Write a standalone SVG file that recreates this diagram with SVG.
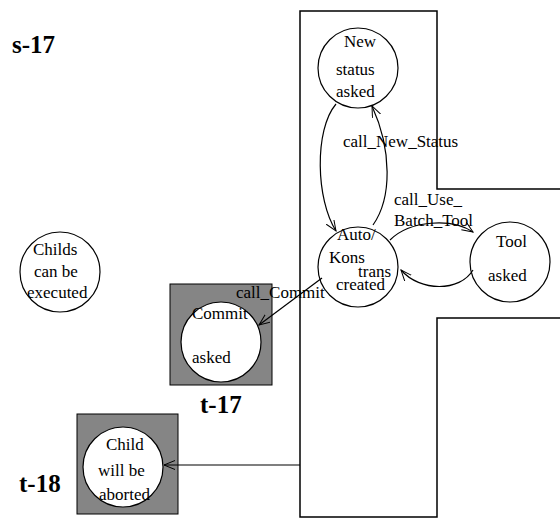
<svg xmlns="http://www.w3.org/2000/svg" width="560" height="522" viewBox="0 0 560 522">
<style>
.t{font-family:"Liberation Serif","Times New Roman",serif;font-size:17px;fill:#000}
.b{font-family:"Liberation Serif","Times New Roman",serif;font-weight:bold;font-size:25px;fill:#000}
.c{fill:#fff;stroke:#000;stroke-width:1.2}
.g{fill:#858585;stroke:#000;stroke-width:1}
.e{fill:none;stroke:#000;stroke-width:1.2}
</style>
<defs>
<marker id="a" markerWidth="12" markerHeight="10" refX="11" refY="4.5" orient="auto" markerUnits="userSpaceOnUse">
<path d="M0,0 L11,4.5 L0,9" fill="none" stroke="#000" stroke-width="1"/>
</marker>
</defs>
<g id="region">
<path d="M560,189 L437,189 L437,11 L300,11 L300,517 L437,517 L437,318 L560,318" fill="none" stroke="#000" stroke-width="1.5"/>
</g>
<g id="labels">
<text class="b" x="12" y="53">s-17</text>
<text class="b" x="200" y="413">t-17</text>
<text class="b" x="19" y="492">t-18</text>
</g>
<g id="new-status">
<circle class="c" cx="358" cy="68" r="40"/>
<text class="t" x="344" y="47">New</text>
<text class="t" x="336" y="75">status</text>
<text class="t" x="336" y="97">asked</text>
</g>
<g id="auto-kons">
<circle class="c" cx="358" cy="267" r="40"/>
<text class="t" x="337" y="240">Auto/</text>
<text class="t" x="329" y="263">Kons</text>
<text class="t" x="358" y="277">trans</text>
<text class="t" x="336" y="290">created</text>
</g>
<g id="tool">
<circle class="c" cx="510" cy="262" r="40"/>
<text class="t" x="496" y="247">Tool</text>
<text class="t" x="488" y="281">asked</text>
</g>
<g id="commit">
<rect class="g" x="170" y="284" width="102" height="101"/>
<circle class="c" cx="221" cy="342" r="40"/>
<text class="t" x="192" y="319">Commit</text>
<text class="t" x="192" y="363">asked</text>
</g>
<g id="child">
<rect class="g" x="77" y="414" width="101" height="100"/>
<circle class="c" cx="123" cy="467" r="40"/>
<text class="t" x="106" y="450">Child</text>
<text class="t" x="98" y="476">will be</text>
<text class="t" x="99" y="500">aborted</text>
</g>
<g id="childs">
<circle class="c" cx="60" cy="272" r="40"/>
<text class="t" x="33" y="255">Childs</text>
<text class="t" x="34" y="277">can be</text>
<text class="t" x="27" y="298">executed</text>
</g>
<g id="connectors">
<path class="e" d="M373,225 C392,198 392,150 372,106" marker-end="url(#a)"/>
<path class="e" d="M336,104 C314,130 316,200 336,231" marker-end="url(#a)"/>
<path class="e" d="M390,240 C410,220 452,218 473,232" marker-end="url(#a)"/>
<path class="e" d="M473,270 C460,292 420,292 401,270" marker-end="url(#a)"/>
<path class="e" d="M322,278 L259,325" marker-end="url(#a)"/>
<path class="e" d="M300,465 L164,465" marker-end="url(#a)"/>
<text class="t" x="343" y="147">call_New_Status</text>
<text class="t" x="394" y="205">call_Use_</text>
<text class="t" x="394" y="226">Batch_Tool</text>
<text class="t" x="236" y="298">call_Commit</text>
</g>
</svg>
